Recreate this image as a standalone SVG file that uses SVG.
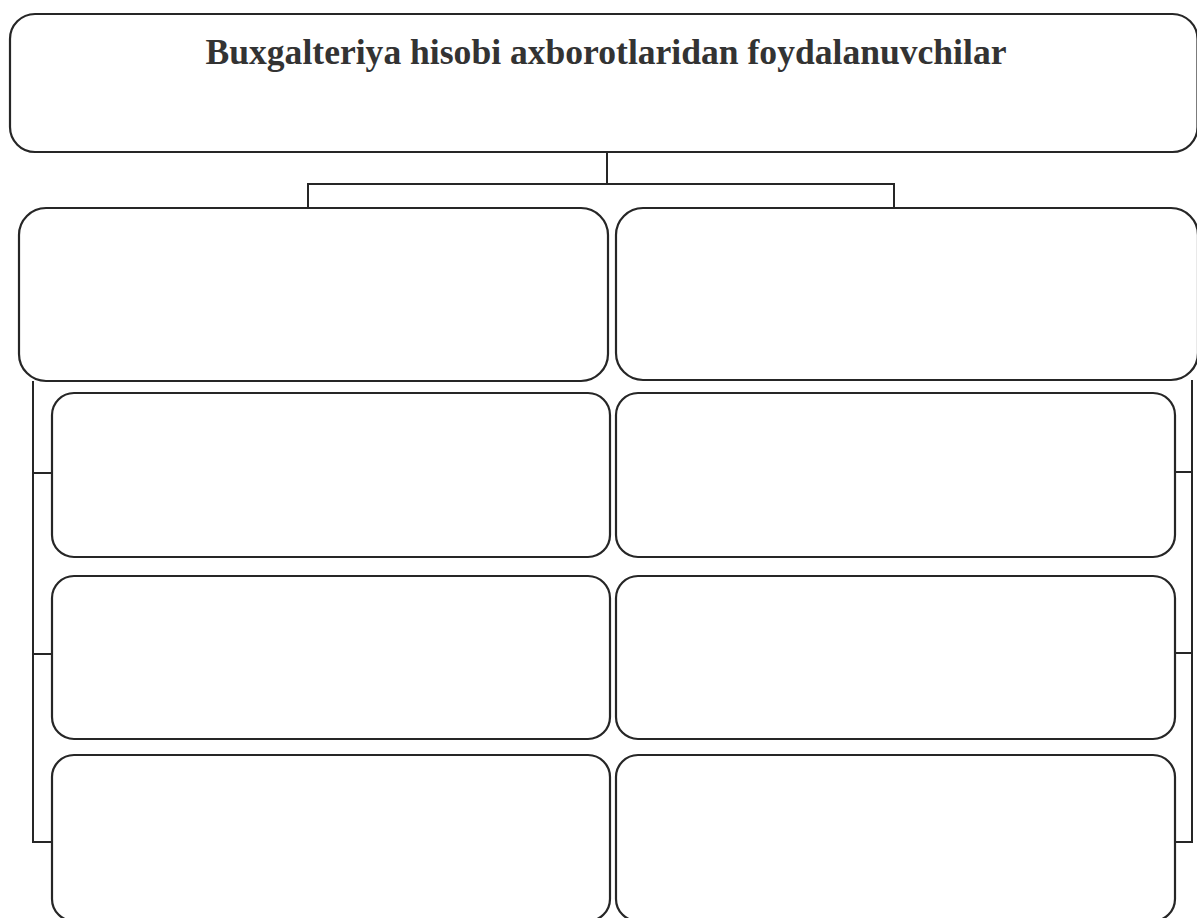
<svg xmlns="http://www.w3.org/2000/svg" width="1197" height="918" viewBox="0 0 1197 918">
<style>
.box{fill:none;stroke:#262626;stroke-width:2.2}
.con{fill:none;stroke:#262626;stroke-width:2}
.title{font-family:"Liberation Serif",serif;font-weight:bold;font-size:35.6px;fill:#333}
</style>
<rect x="0" y="0" width="1197" height="918" fill="#ffffff"/>
<g id="root">
<rect class="box" x="10" y="14" width="1187.5" height="138" rx="25" ry="25"/>
<text class="title" x="606" y="64" text-anchor="middle">Buxgalteriya hisobi axborotlaridan foydalanuvchilar</text>
</g>
<g id="left-main"><rect class="box" x="19" y="208" width="589" height="173" rx="27" ry="27"/></g>
<g id="right-main"><rect class="box" x="616" y="208" width="582" height="172" rx="27" ry="27"/></g>
<g id="left-1"><rect class="box" x="52" y="393" width="558" height="164" rx="22" ry="22"/></g>
<g id="left-2"><rect class="box" x="52" y="576" width="558" height="163" rx="22" ry="22"/></g>
<g id="left-3"><rect class="box" x="52" y="755" width="558" height="166" rx="22" ry="22"/></g>
<g id="right-1"><rect class="box" x="616" y="393" width="559" height="164" rx="22" ry="22"/></g>
<g id="right-2"><rect class="box" x="616" y="576" width="559" height="163" rx="22" ry="22"/></g>
<g id="right-3"><rect class="box" x="616" y="755" width="559" height="166" rx="22" ry="22"/></g>
<g id="connectors">
<path class="con" d="M607 152 V184 M308 208 V184 H894 V208"/>
<path class="con" d="M33 381 V842 H52 M33 473 H52 M33 654 H52"/>
<path class="con" d="M1192 380 V842 H1175 M1192 472 H1175 M1192 653 H1175"/>
</g>
</svg>
